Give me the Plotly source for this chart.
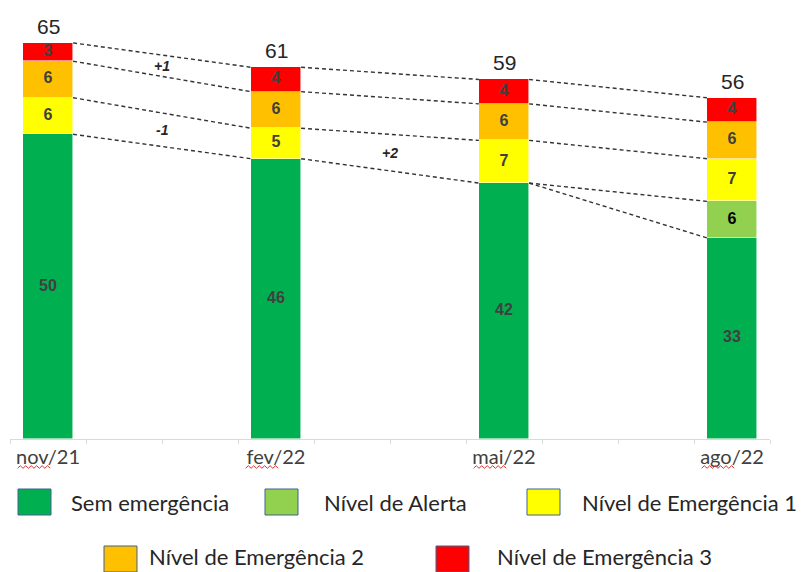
import plotly.graph_objects as go

# Monthly axis (only some months carry data)
months = ["nov/21", "dez/21", "jan/22", "fev/22", "mar/22", "abr/22",
          "mai/22", "jun/22", "jul/22", "ago/22"]
periods = ["nov/21", "fev/22", "mai/22", "ago/22"]

# Stacked series, bottom to top
series_names = ["Sem emergência", "Nível de Alerta", "Nível de Emergência 1",
                "Nível de Emergência 2", "Nível de Emergência 3"]
sem_emergencia = [50, 46, 42, 33]
nivel_alerta = [0, 0, 0, 6]
emergencia_1 = [6, 5, 7, 7]
emergencia_2 = [6, 6, 6, 6]
emergencia_3 = [3, 4, 4, 4]

series_values = [sem_emergencia, nivel_alerta, emergencia_1, emergencia_2, emergencia_3]
series_colors = ["#00B050", "#92D050", "#FFFF00", "#FFC000", "#FF0000"]
label_colors = ["#404040", "#000000", "#404040", "#404040", "#404040"]

# Figure geometry
W, H = 801, 572
ML, MR, MT, MB = 10, 31, 10, 133
PW, PH = W - ML - MR, H - MT - MB
Y_MAX = 70.4
BAR_W = 0.66


def px_x(px):
    return (px - ML) / PW


def px_y(py):
    return (H - MB - py) / PH


xi = [months.index(p) for p in periods]
n = len(periods)

# cumulative tops per series
cum = []
running = [0] * n
for vals in series_values:
    running = [running[i] + vals[i] for i in range(n)]
    cum.append(running)
totals = cum[-1]

fig = go.Figure()

for name, vals, color in zip(series_names, series_values, series_colors):
    fig.add_trace(go.Bar(
        x=xi, y=vals, name=name, width=BAR_W,
        marker=dict(color=color, line=dict(color="rgba(255,255,255,0.7)", width=0.8)),
        showlegend=False, hoverinfo="skip",
    ))

# dashed connectors between consecutive bars at every stack boundary
segments = set()
for k in range(len(series_values)):
    for i in range(n - 1):
        seg = (i, cum[k][i], cum[k][i + 1])
        if seg in segments:
            continue
        segments.add(seg)
        fig.add_trace(go.Scatter(
            x=[xi[i] + BAR_W / 2, xi[i + 1] - BAR_W / 2],
            y=[cum[k][i], cum[k][i + 1]],
            mode="lines",
            line=dict(color="#333333", width=1.4, dash="4px,3px"),
            showlegend=False, hoverinfo="skip",
        ))

# value labels inside the stacked segments
base = [0] * n
for vals, lc in zip(series_values, label_colors):
    xs, ys, ts = [], [], []
    for i in range(n):
        if vals[i] > 0:
            xs.append(xi[i])
            ys.append(base[i] + vals[i] / 2)
            ts.append(str(vals[i]))
    fig.add_trace(go.Scatter(
        x=xs, y=ys, text=ts, mode="text",
        textfont=dict(family="Liberation Sans, Arial", size=16, color=lc, weight="bold"),
        showlegend=False, hoverinfo="skip",
    ))
    base = [base[i] + vals[i] for i in range(n)]

# totals above each bar
for i in range(n):
    fig.add_annotation(
        x=xi[i], y=totals[i], text=str(totals[i]), showarrow=False,
        yanchor="bottom", yshift=3,
        font=dict(family="Liberation Sans, Arial", size=21, color="#262626"),
    )

# change markers between periods for the emergency levels
for k in (2, 3, 4):
    vals = series_values[k]
    for i in range(n - 1):
        diff = vals[i + 1] - vals[i]
        if diff == 0:
            continue
        xm = (xi[i] + xi[i + 1]) / 2
        lo = ((cum[k - 1][i] + cum[k - 1][i + 1]) / 2)
        hi = ((cum[k][i] + cum[k][i + 1]) / 2)
        fig.add_annotation(
            x=xm, y=(lo + hi) / 2, text=f"<b><i>{diff:+d}</i></b>",
            showarrow=False,
            font=dict(family="Liberation Sans, Arial", size=14, color="#262626"),
        )

# spell-check style wavy underline under the month abbreviation
shapes = []
uy = px_y(467)
amp = 1.3 / PH
for i in range(n):
    x0 = xi[i] - 0.40
    x1 = xi[i] + 0.03
    steps = 12
    pts = []
    for s in range(steps + 1):
        xx = x0 + (x1 - x0) * s / steps
        yy = uy + (amp if s % 2 else -amp)
        pts.append(f"{xx:.4f},{yy:.5f}")
    shapes.append(dict(
        type="path", xref="x", yref="paper",
        path="M " + " L ".join(pts),
        line=dict(color="#E0302A", width=1),
    ))

# legend drawn as boxes and labels below the axis
legend_layout = [
    # (series index, box left px, text left px, box centre px, text centre px)
    (0, 18, 69, 502, 502),
    (1, 265, 322, 502, 502),
    (2, 527, 580, 502, 502),
    (3, 104, 147, 559, 556),
    (4, 436, 495, 559, 556),
]
for k, bx, tx, by, ty in legend_layout:
    shapes.append(dict(
        type="rect", xref="paper", yref="paper",
        x0=px_x(bx), x1=px_x(bx + 33), y0=px_y(by + 13), y1=px_y(by - 13),
        fillcolor=series_colors[k], line=dict(color="#41628F", width=1),
    ))
    fig.add_annotation(
        xref="paper", yref="paper", x=px_x(tx), y=px_y(ty),
        xanchor="left", yanchor="middle", text=series_names[k], showarrow=False,
        font=dict(family="Lato, Liberation Sans", size=22, color="#262626"),
    )

fig.update_layout(
    width=W, height=H,
    margin=dict(l=ML, r=MR, t=MT, b=MB),
    paper_bgcolor="white", plot_bgcolor="white",
    barmode="stack", bargap=0,
    shapes=shapes,
    xaxis=dict(
        range=[-0.5, len(months) - 0.5],
        tickmode="array", tickvals=xi, ticktext=periods,
        ticks="", showgrid=False, zeroline=False,
        showline=True, linecolor="#D9D9D9", linewidth=1,
        tickfont=dict(family="Lato, Liberation Sans", size=20, color="#404040"),
        minor=dict(tickvals=[m - 0.5 for m in range(len(months) + 1)],
                   ticks="outside", ticklen=4, tickcolor="#D9D9D9", showgrid=False),
    ),
    yaxis=dict(range=[0, Y_MAX], visible=False),
)

fig.write_html("out.html")
